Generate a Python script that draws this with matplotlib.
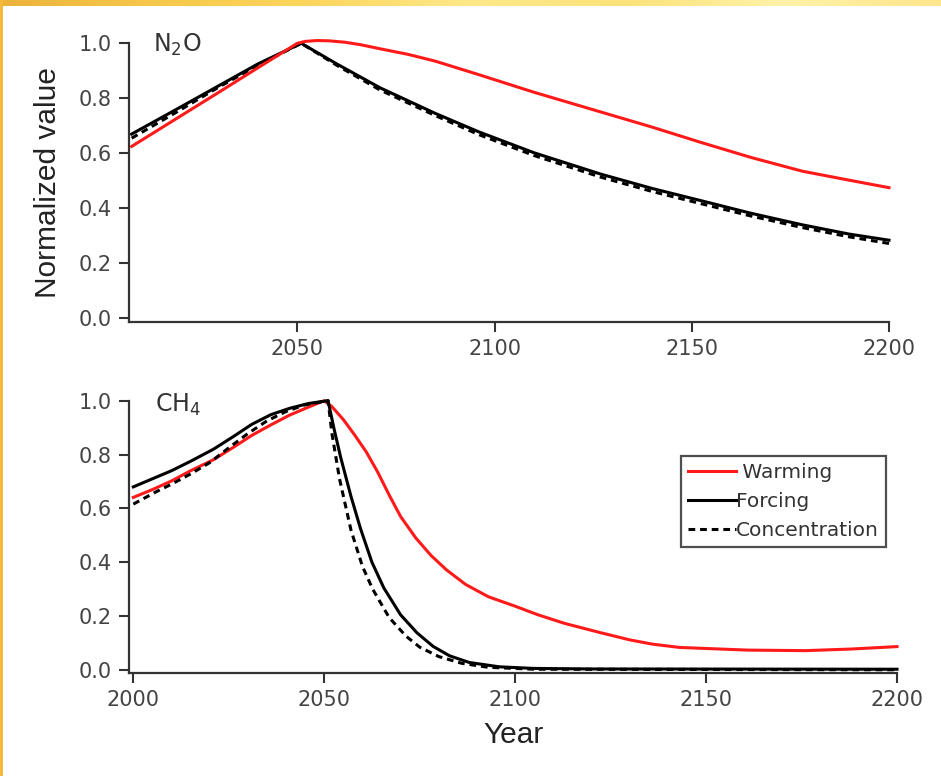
import matplotlib
matplotlib.use('Agg')
import matplotlib.pyplot as plt
import numpy as np
from matplotlib.colors import LinearSegmentedColormap

# ---- N2O panel ----
n2o_warm_years = [2008, 2020, 2030, 2040, 2050, 2052, 2055, 2058, 2062, 2066, 2071, 2078,
                  2085, 2096, 2110, 2127, 2140, 2152, 2165, 2178, 2190, 2200]
n2o_warming = [0.625, 0.732, 0.821, 0.911, 1.0, 1.007, 1.01, 1.009, 1.004, 0.995, 0.98, 0.96,
               0.935, 0.886, 0.822, 0.75, 0.695, 0.641, 0.585, 0.535, 0.502, 0.475]

n2o_years = [2008, 2020, 2030, 2040, 2051, 2060, 2071, 2085, 2096, 2110, 2127,
             2140, 2152, 2165, 2178, 2190, 2200]
n2o_forcing = [0.67, 0.765, 0.845, 0.925, 1.0, 0.925, 0.838, 0.745, 0.678, 0.602, 0.524,
               0.472, 0.429, 0.382, 0.34, 0.306, 0.284]
n2o_conc = [0.655, 0.755, 0.84, 0.92, 1.0, 0.92, 0.83, 0.737, 0.668, 0.592, 0.513,
            0.461, 0.418, 0.372, 0.33, 0.296, 0.272]

# ---- CH4 panel ----
ch4_warm_years = [2000, 2005, 2010, 2015, 2021, 2026, 2031, 2036, 2041, 2046, 2050,
                  2052, 2055, 2058, 2061, 2064, 2067, 2070, 2074, 2078, 2082, 2087,
                  2093, 2100, 2106, 2113, 2122, 2130, 2136, 2143, 2150, 2161, 2176,
                  2188, 2200]
ch4_warming = [0.641, 0.67, 0.702, 0.74, 0.781, 0.825, 0.871, 0.91, 0.947, 0.977, 1.0,
               0.978, 0.93, 0.872, 0.81, 0.735, 0.65, 0.57, 0.49, 0.425, 0.372, 0.318,
               0.272, 0.237, 0.205, 0.173, 0.14, 0.112, 0.096, 0.084, 0.08, 0.074, 0.072,
               0.078, 0.087]

ch4_force_years = [2000, 2005, 2010, 2015, 2021, 2026, 2031, 2036, 2041, 2046, 2051,
                   2052.5, 2054.3, 2057, 2059.5, 2062.5, 2065.6, 2070, 2074.3, 2078.5,
                   2082.8, 2088, 2095.8, 2105, 2120, 2200]
ch4_forcing = [0.68, 0.71, 0.74, 0.775, 0.82, 0.865, 0.912, 0.948, 0.972, 0.99, 1.0,
               0.9, 0.79, 0.645, 0.525, 0.4, 0.305, 0.205, 0.138, 0.088,
               0.053, 0.028, 0.012, 0.006, 0.004, 0.003]

ch4_conc_years = [2000, 2006, 2010, 2015, 2020, 2025, 2030, 2035, 2040, 2045, 2051,
                  2052, 2054, 2057, 2060, 2062.7, 2067, 2071.4, 2075, 2080, 2086,
                  2093, 2105, 2200]
ch4_conc = [0.616, 0.662, 0.69, 0.728, 0.77, 0.825, 0.878, 0.925, 0.96, 0.985, 1.0,
            0.88, 0.71, 0.52, 0.385, 0.3, 0.195, 0.126, 0.085, 0.05, 0.025,
            0.01, 0.003, 0.001]

W, H = 941, 776
fig = plt.figure(figsize=(W / 100, H / 100), dpi=100)
fig.patch.set_facecolor('white')

# yellow frame strips (top and left)
grad = np.linspace(0, 1, 400)
top_ax = fig.add_axes([0, 1 - 6 / H, 1, 6 / H])
cmap = LinearSegmentedColormap.from_list('frame', ['#ebb33c', '#f7c94a', '#fbd65e', '#fde98a',
                                                   '#fbe27a', '#fff2a8', '#fde68c'])
top_ax.imshow(grad[None, :], aspect='auto', cmap=cmap, extent=[0, 1, 0, 1])
top_ax.axis('off')
left_ax = fig.add_axes([0, 0, 3 / W, 1])
left_ax.set_facecolor('#f4b93c')
left_ax.set_xticks([]); left_ax.set_yticks([])
for s in left_ax.spines.values():
    s.set_visible(False)

spine_col = '#333333'
tick_font = dict(family='DejaVu Sans', size=15)
label_font = 'Liberation Sans'


def style(ax):
    for side in ('top', 'right'):
        ax.spines[side].set_visible(False)
    for side in ('left', 'bottom'):
        ax.spines[side].set_color(spine_col)
        ax.spines[side].set_linewidth(1.6)
    ax.tick_params(direction='out', length=7.5, width=1.5, color=spine_col,
                   labelcolor='#444444', labelsize=15, pad=5)
    ax.set_yticks([0.0, 0.2, 0.4, 0.6, 0.8, 1.0])
    ax.set_yticklabels(['0.0', '0.2', '0.4', '0.6', '0.8', '1.0'], **tick_font)


lw = 2.2
dash = (0, (2.2, 1.6))

# top panel
ax1 = fig.add_axes([129.3 / W, (H - 321.6) / H, (889 - 129.3) / W, (321.6 - 43.3) / H])
ax1.plot(n2o_years, n2o_conc, color='black', lw=lw, linestyle=dash, clip_on=False)
ax1.plot(n2o_years, n2o_forcing, color='black', lw=lw, clip_on=False)
ax1.plot(n2o_warm_years, n2o_warming, color='#ff1a1a', lw=lw, clip_on=False)
ax1.set_xlim(2007.4, 2200)
ax1.set_ylim(-0.012, 1.0)
ax1.set_xticks([2050, 2100, 2150, 2200])
ax1.set_xticklabels(['2050', '2100', '2150', '2200'], **tick_font)
style(ax1)
ax1.set_ylabel('Normalized value', family=label_font, fontsize=21.5, color='#222222',
               labelpad=12)
ax1.text(0.031, 0.995, r'N$_2$O', transform=ax1.transAxes, fontsize=17,
         family='DejaVu Sans', color='#333333', va='center', ha='left')

# bottom panel
ax2 = fig.add_axes([129.3 / W, (H - 673) / H, (897 - 129.3) / W, (673 - 400.7) / H])
ax2.plot(ch4_warm_years, ch4_warming, color='#ff1a1a', lw=lw, clip_on=False, label=' Warming')
ax2.plot(ch4_force_years, ch4_forcing, color='black', lw=lw, clip_on=False, label='Forcing')
ax2.plot(ch4_conc_years, ch4_conc, color='black', lw=lw, linestyle=dash, clip_on=False,
         label='Concentration')
ax2.set_xlim(1998.95, 2200)
ax2.set_ylim(-0.011, 1.0)
ax2.set_xticks([2000, 2050, 2100, 2150, 2200])
ax2.set_xticklabels(['2000', '2050', '2100', '2150', '2200'], **tick_font)
style(ax2)
ax2.set_xlabel('Year', family=label_font, fontsize=21.5, color='#222222', labelpad=8)
ax2.text(0.034, 0.985, r'CH$_4$', transform=ax2.transAxes, fontsize=17,
         family='DejaVu Sans', color='#333333', va='center', ha='left')

leg = ax2.legend(loc='upper right', bbox_to_anchor=(886 / W, 1 - 456 / H),
                 bbox_transform=fig.transFigure, borderaxespad=0, fancybox=False,
                 frameon=True, prop=dict(family='DejaVu Sans', size=14.5),
                 handlelength=2.4, handletextpad=0.0, labelspacing=0.5,
                 borderpad=0.35)
leg.get_frame().set_edgecolor('#222222')
leg.get_frame().set_linewidth(1.6)
for t in leg.get_texts():
    t.set_color('#333333')

fig.savefig('out.png', dpi=100)
